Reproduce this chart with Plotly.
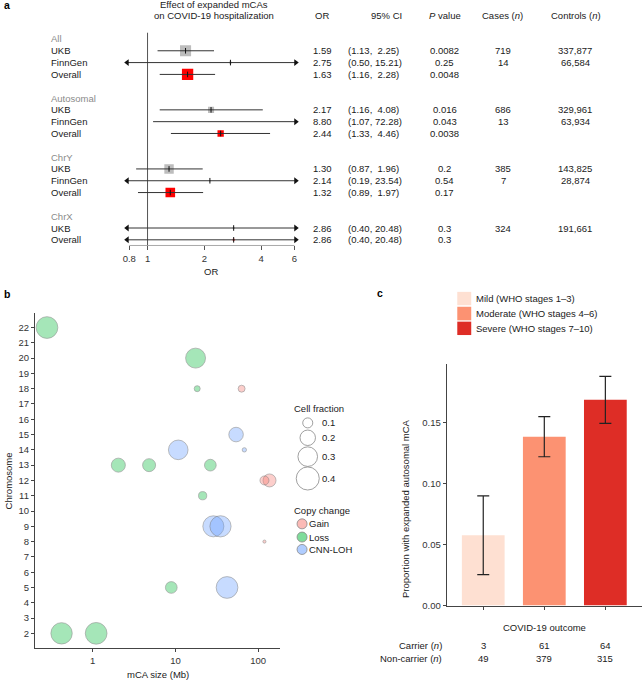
import math
import plotly.graph_objects as go

W, H = 642, 685
FONT = "Liberation Sans, Arial, Helvetica, sans-serif"
TXT = "#1a1a1a"
FS = 9.5

# ---------------- Panel a data (forest plot) ----------------
group_names = ["All", "Autosomal", "ChrY", "ChrX"]
group_studies = [["UKB", "FinnGen", "Overall"],
                 ["UKB", "FinnGen", "Overall"],
                 ["UKB", "FinnGen", "Overall"],
                 ["UKB", "Overall"]]
odds_ratio = [1.59, 2.75, 1.63, 2.17, 8.80, 2.44, 1.30, 2.14, 1.32, 2.86, 2.86]
ci_lower = [1.13, 0.50, 1.16, 1.16, 1.07, 1.33, 0.87, 0.19, 0.89, 0.40, 0.40]
ci_upper = [2.25, 15.21, 2.28, 4.08, 72.28, 4.46, 1.96, 23.54, 1.97, 20.48, 20.48]
p_values = ["0.0082", "0.25", "0.0048", "0.016", "0.043", "0.0038", "0.2", "0.54", "0.17", "0.3", "0.3"]
cases_n = ["719", "14", "", "686", "13", "", "385", "7", "", "324", ""]
controls_n = ["337,877", "66,584", "", "329,961", "63,934", "", "143,825", "28,874", "", "191,661", ""]
or_ticks = [0.8, 1, 2, 4, 6]

# ---------------- Panel b data (bubble chart) ----------------
chromosome = [22, 20, 18, 18, 15, 14, 14, 13, 13, 13, 12, 12, 11, 9, 9, 8, 5, 5, 2, 2]
mca_size_mb = [0.28, 17.5, 18.3, 63, 54, 10.8, 68, 2.04, 4.8, 26.4, 137, 119, 21.3, 28.7, 35, 119, 8.9, 42, 0.42, 1.1]
cell_fraction = [0.36, 0.31, 0.05, 0.06, 0.18, 0.30, 0.035, 0.17, 0.15, 0.127, 0.15, 0.085, 0.075,
                 0.34, 0.345, 0.026, 0.127, 0.36, 0.35, 0.36]
copy_change = ["Loss", "Loss", "Loss", "Gain", "CNN-LOH", "CNN-LOH", "CNN-LOH", "Loss", "Loss", "Loss",
               "Gain", "Gain", "Loss", "CNN-LOH", "CNN-LOH", "Gain", "Loss", "CNN-LOH", "Loss", "Loss"]
copy_types = ["Gain", "Loss", "CNN-LOH"]
legend_fractions = [0.1, 0.2, 0.3, 0.4]
chrom_ticks = list(range(2, 23))
size_ticks = [1, 10, 100]

# ---------------- Panel c data (bar chart) ----------------
severity = ["Mild (WHO stages 1\u20133)", "Moderate (WHO stages 4\u20136)", "Severe (WHO stages 7\u201310)"]
carrier_n = [3, 61, 64]
noncarrier_n = [49, 379, 315]
prop_err = [0.0323, 0.0165, 0.0193]
prop_ticks = [0.0, 0.05, 0.10, 0.15]

# ---------------- styles ----------------
sev_colors = ["#FEE0D2", "#FC9272", "#DE2D26"]
cc_fill = {"Gain": "rgba(248,118,109,0.5)", "Loss": "rgba(0,186,56,0.5)", "CNN-LOH": "rgba(97,156,255,0.5)"}
box_color = {"UKB": "#BDBDBD", "FinnGen": "#BDBDBD", "Overall": "#FF0000"}


def px(x):
    return x / W


def py(y):
    return 1 - y / H


def bubble_d(cf):
    return -2 + 40.1 * math.sqrt(max(cf - 0.01, 0))


fig = go.Figure()
annotations = []
shapes = []


def ann(text, x, y, xref="paper", yref="paper", xanchor="center", size=FS, color=TXT, **kw):
    annotations.append(dict(text=text, x=x, y=y, xref=xref, yref=yref, xanchor=xanchor,
                            yanchor=kw.pop("yanchor", "middle"), showarrow=False,
                            borderpad=0, borderwidth=0,
                            font=dict(family=FONT, size=size, color=color), **kw))


# ================= Panel a =================
XCLIP = [0.78, 6.1]
FX_RANGE = [math.log10(1) - (146 - 123) / 189.3, (298 - 146) / 189.3]
FY_RANGE = [17.48, -0.55]

rows = []
r = 0
k = 0
for g, studies in zip(group_names, group_studies):
    ann(g, px(49), r, yref="y", xanchor="left", color="#8a8a8a")
    for s in studies:
        rows.append((r + 1, s, k))
        r += 1
        k += 1
    r += 2

# vertical reference line at OR = 1
fig.add_trace(go.Scatter(x=[1, 1], y=FY_RANGE, mode="lines", line=dict(color="#555", width=1),
                         xaxis="x", yaxis="y", hoverinfo="skip", showlegend=False))
# axis baseline between extreme ticks
fig.add_trace(go.Scatter(x=[min(or_ticks), max(or_ticks)], y=[FY_RANGE[0]] * 2, mode="lines",
                         line=dict(color="#555", width=1), xaxis="x", yaxis="y",
                         hoverinfo="skip", showlegend=False, cliponaxis=False))

lx, ly = [], []
larr_x, larr_y, rarr_x, rarr_y = [], [], [], []
tick_x, tick_y = [], []
for row, s, i in rows:
    lo, hi, orv = ci_lower[i], ci_upper[i], odds_ratio[i]
    lx += [max(lo, XCLIP[0]), min(hi, XCLIP[1]), None]
    ly += [row, row, None]
    if lo < XCLIP[0]:
        larr_x.append(XCLIP[0]); larr_y.append(row)
    if hi > XCLIP[1]:
        rarr_x.append(XCLIP[1]); rarr_y.append(row)
    if XCLIP[0] <= orv <= XCLIP[1]:
        se = (math.log(hi) - math.log(lo)) / (2 * 1.96)
        fig.add_trace(go.Scatter(x=[orv], y=[row], mode="markers", xaxis="x", yaxis="y",
                                 marker=dict(symbol="square", size=1.95 / se, color=box_color[s],
                                             line=dict(width=0)),
                                 hoverinfo="skip", showlegend=False))
        tick_x.append(orv); tick_y.append(row)
    # table
    ann(s, px(49), row, yref="y", xanchor="left")
    ann(f"{orv:.2f}", px(321), row, yref="y")
    hi_s = f"{hi:.2f}"
    pad = "\u00a0\u00a0" if hi < 10 else "\u00a0"
    ann(f"({lo:.2f},{pad}{hi_s})", px(347), row, yref="y", xanchor="left")
    ann(p_values[i], px(444), row, yref="y")
    ann(cases_n[i], px(503), row, yref="y")
    ann(controls_n[i], px(575), row, yref="y")

fig.add_trace(go.Scatter(x=lx, y=ly, mode="lines", line=dict(color="#333", width=1), xaxis="x", yaxis="y",
                         hoverinfo="skip", showlegend=False))
fig.add_trace(go.Scatter(x=tick_x, y=tick_y, mode="markers", xaxis="x", yaxis="y",
                         marker=dict(symbol="line-ns-open", size=4, color="#111", line=dict(width=1, color="#111")),
                         hoverinfo="skip", showlegend=False))
fig.add_trace(go.Scatter(x=larr_x, y=larr_y, mode="markers", xaxis="x", yaxis="y", cliponaxis=False,
                         marker=dict(symbol="triangle-left", size=6, color="#111", line=dict(width=0)),
                         hoverinfo="skip", showlegend=False))
fig.add_trace(go.Scatter(x=rarr_x, y=rarr_y, mode="markers", xaxis="x", yaxis="y", cliponaxis=False,
                         marker=dict(symbol="triangle-right", size=6, color="#111", line=dict(width=0)),
                         hoverinfo="skip", showlegend=False))

ann("Effect of expanded mCAs", px(213), py(5))
ann("on COVID-19 hospitalization", px(213), py(16))
ann("OR", px(321), py(16))
ann("95% CI", px(386), py(16))
ann("<i>P</i> value", px(444), py(16))
ann("Cases (<i>n</i>)", px(502), py(16))
ann("Controls (<i>n</i>)", px(576), py(16))
ann("OR", px(210), py(273))

# ================= Panel b =================
for t in copy_types:
    idx = [i for i, c in enumerate(copy_change) if c == t]
    fig.add_trace(go.Scatter(
        x=[mca_size_mb[i] for i in idx], y=[chromosome[i] for i in idx], mode="markers",
        xaxis="x2", yaxis="y2", name=t, showlegend=False, hoverinfo="skip",
        marker=dict(size=[bubble_d(cell_fraction[i]) for i in idx], color=cc_fill[t],
                    line=dict(color="rgba(110,110,110,0.9)", width=0.7))))

ann("Cell fraction", px(293), py(412), xanchor="left")
for frac, cy in zip(legend_fractions, [426, 441, 460, 482]):
    d = bubble_d(frac)
    shapes.append(dict(type="circle", xref="paper", yref="paper", xsizemode="pixel", ysizemode="pixel",
                       xanchor=px(306.7), yanchor=py(cy), x0=-d / 2, x1=d / 2, y0=-d / 2, y1=d / 2,
                       line=dict(color="#888", width=0.8), fillcolor="white"))
    ann(f"{frac:.1f}", px(321.5), py(cy), xanchor="left")
ann("Copy change", px(293), py(514.5), xanchor="left")
for t, cy in zip(copy_types, [527.7, 541, 553.5]):
    shapes.append(dict(type="circle", xref="paper", yref="paper", xsizemode="pixel", ysizemode="pixel",
                       xanchor=px(301), yanchor=py(cy), x0=-5, x1=5, y0=-5, y1=5,
                       line=dict(color="#888", width=0.8), fillcolor=cc_fill[t]))
    ann(t, px(308), py(cy), xanchor="left")

ann("mCA size (Mb)", px(156), py(679))
ann("Chromosome", px(6), py(484), textangle=-90)

# ================= Panel c =================
proportion = [c / (c + n) for c, n in zip(carrier_n, noncarrier_n)]
fig.add_trace(go.Bar(x=[0, 1, 2], y=proportion, width=0.7, xaxis="x3", yaxis="y3",
                     marker=dict(color=sev_colors, line=dict(width=0)),
                     error_y=dict(type="data", array=prop_err, color="#222", thickness=1.2, width=6),
                     showlegend=False, hoverinfo="skip"))

for j, (lab, col, (y0, y1)) in enumerate(zip(severity, sev_colors, [(294, 307.5), (309, 322.7), (324, 337.5)])):
    shapes.append(dict(type="rect", xref="paper", yref="paper", x0=px(456.7), x1=px(470.7),
                       y0=py(y1), y1=py(y0), fillcolor=col, line=dict(width=0)))
    ann(lab, px(475.5), py((y0 + y1) / 2), xanchor="left")

ann("Proportion with expanded autosomal mCA", px(405), py(512), textangle=-90)
ann("COVID-19 outcome", 1, py(632), xref="x3")
ann("Carrier (<i>n</i>)", px(441), py(650), xanchor="right")
ann("Non-carrier (<i>n</i>)", px(441), py(663), xanchor="right")
for j in range(3):
    ann(str(carrier_n[j]), j, py(650), xref="x3")
    ann(str(noncarrier_n[j]), j, py(663), xref="x3")

# panel letters
ann("<b>a</b>", px(2), py(5), xanchor="left", size=10.5, color="#000")
ann("<b>b</b>", px(2), py(296), xanchor="left", size=10.5, color="#000")
ann("<b>c</b>", px(376), py(295), xanchor="left", size=10.5, color="#000")

axis_font = dict(family=FONT, size=FS, color="#333")
fig.update_layout(
    width=W, height=H, margin=dict(l=0, r=0, t=0, b=0),
    paper_bgcolor="white", plot_bgcolor="white", showlegend=False,
    font=dict(family=FONT, size=FS, color=TXT), hovermode=False,
    xaxis=dict(domain=[px(123), px(298)], type="log", range=FX_RANGE, anchor="y",
               tickvals=or_ticks, ticktext=[str(t) for t in or_ticks], ticks="outside", ticklen=4,
               tickcolor="#555", showgrid=False, zeroline=False, showline=False, tickfont=axis_font),
    yaxis=dict(domain=[py(247.3), py(32.7)], range=FY_RANGE, visible=False, anchor="x"),
    xaxis2=dict(domain=[px(33), px(279)], type="log", range=[-0.699, 2.265], anchor="y2",
                tickvals=size_ticks, ticktext=[str(t) for t in size_ticks], ticks="outside", ticklen=3,
                tickcolor="#444", showline=True, linecolor="#444", linewidth=1, showgrid=False,
                zeroline=False, tickfont=axis_font),
    yaxis2=dict(domain=[py(653), py(315)], range=[1.026, 22.97], anchor="x2",
                tickvals=chrom_ticks, ticks="outside", ticklen=3, tickcolor="#444",
                showline=True, linecolor="#444", linewidth=1, showgrid=False, zeroline=False,
                tickfont=axis_font),
    xaxis3=dict(domain=[px(446), 1.0], range=[-0.6, 2.6], anchor="y3",
                tickvals=[0, 1, 2], ticktext=["", "", ""], ticks="outside", ticklen=3, tickcolor="#444",
                showline=True, linecolor="#444", linewidth=1, showgrid=False, zeroline=False),
    yaxis3=dict(domain=[py(610), py(367)], range=[0, 0.198], anchor="x3",
                tickvals=prop_ticks, tickformat=".2f", ticks="outside", ticklen=3, tickcolor="#444",
                showline=True, linecolor="#444", linewidth=1, showgrid=False, zeroline=False,
                tickfont=axis_font),
    annotations=annotations, shapes=shapes,
)

fig.write_html("out.html", config={"displayModeBar": False, "staticPlot": True},
               post_script="document.body.style.margin='0';document.body.style.padding='0';")
